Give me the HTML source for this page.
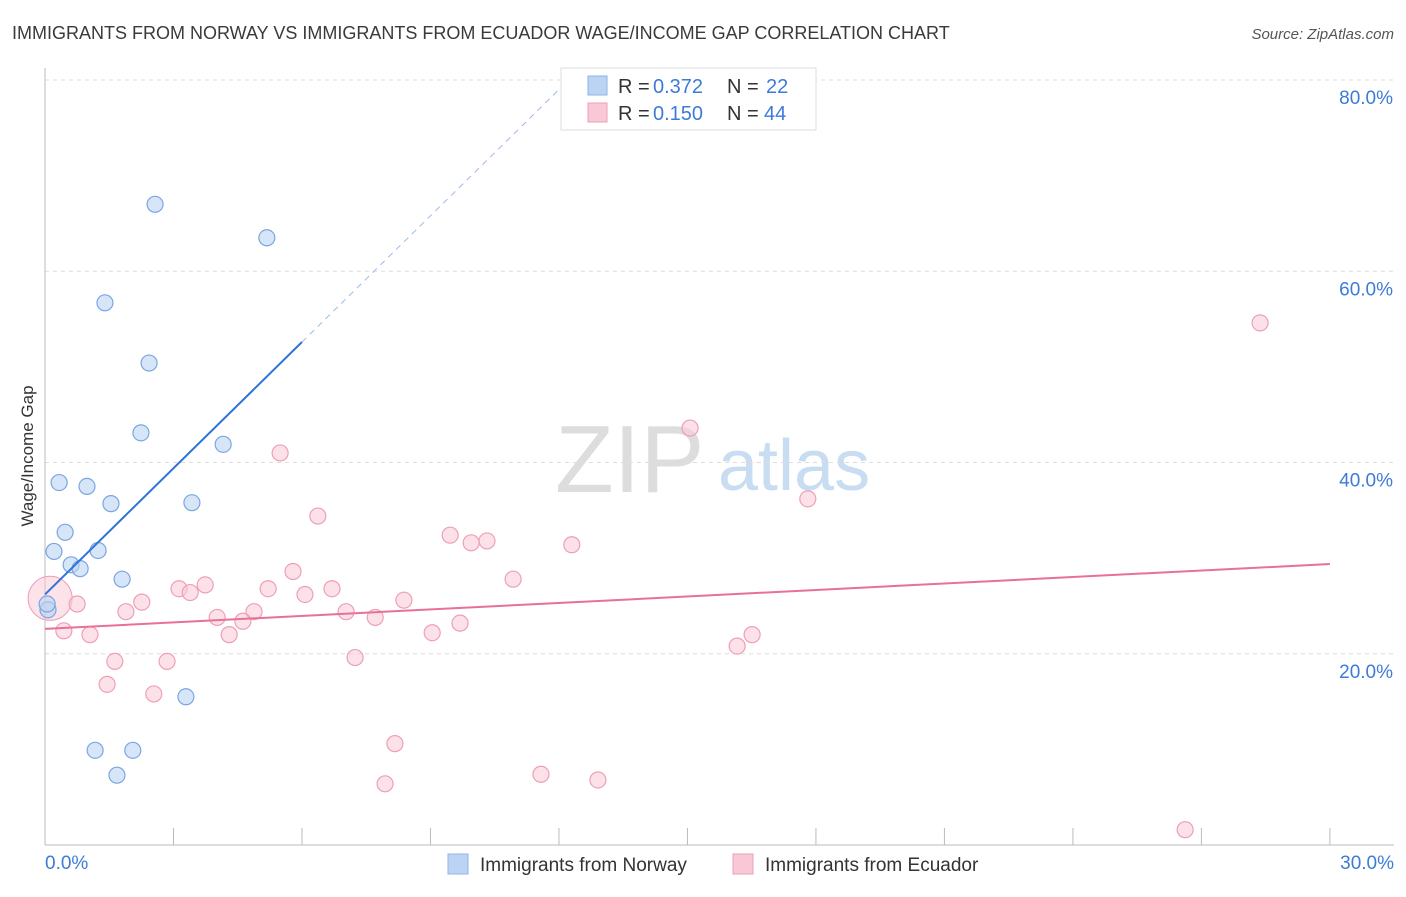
<!DOCTYPE html>
<html><head><meta charset="utf-8"><style>
body{margin:0;background:#fff;font-family:"Liberation Sans",sans-serif}
svg text{font-family:"Liberation Sans",sans-serif}
</style></head><body>
<svg id="c" width="1406" height="892">
<text x="12" y="39" font-size="18" fill="#3a3a3a">IMMIGRANTS FROM NORWAY VS IMMIGRANTS FROM ECUADOR WAGE/INCOME GAP CORRELATION CHART</text>
<text x="1394" y="39" font-size="15" fill="#555" font-style="italic" text-anchor="end">Source: ZipAtlas.com</text>
<text x="33" y="456" font-size="17" fill="#333" text-anchor="middle" transform="rotate(-90 33 456)">Wage/Income Gap</text>
<text x="555" y="492" font-size="96" fill="#ddd" font-family="Liberation Serif">ZIP</text>
<text x="718" y="490" font-size="72" fill="#c8dcf2">atlas</text>
<g id="grid"></g><g id="marks"></g>
<rect x="561" y="68" width="255" height="62" fill="#fff" stroke="#ddd"/>
<rect x="588" y="76" width="19" height="19" fill="#bcd4f3" stroke="#8fb3e6"/>
<rect x="588" y="103" width="19" height="19" fill="#f9c8d6" stroke="#ee9fb8"/>
<text y="93" font-size="20" fill="#333"><tspan x="618">R =</tspan><tspan x="653" fill="#3d7bd8">0.372</tspan><tspan x="727">N =</tspan><tspan x="766" fill="#3d7bd8">22</tspan></text>
<text y="120" font-size="20" fill="#333"><tspan x="618">R =</tspan><tspan x="653" fill="#3d7bd8">0.150</tspan><tspan x="727">N =</tspan><tspan x="764" fill="#3d7bd8">44</tspan></text>
<rect x="448" y="854" width="20" height="20" fill="#bcd4f3" stroke="#8fb3e6"/>
<text x="480" y="871" font-size="19" fill="#333">Immigrants from Norway</text>
<rect x="733" y="854" width="20" height="20" fill="#f9c8d6" stroke="#ee9fb8"/>
<text x="765" y="871" font-size="19" fill="#333">Immigrants from Ecuador</text>
</svg>
<script>
const yTicks=[20,40,60,80];
const xTickCount=[0,3,6,9,12,15,18,21,24,27,30];
const norwayX=[2.57,5.18,1.40,2.43,2.24,4.16,0.33,0.98,1.54,3.43,0.47,0.21,1.24,0.61,0.82,1.80,3.29,1.17,2.05,1.68,0.07,0.05];
const norwayY=[67.0,63.5,56.7,50.4,43.1,41.9,37.9,37.5,35.7,35.8,32.7,30.7,30.8,29.3,28.9,27.8,15.5,9.9,9.9,7.3,24.6,25.2];
const ecuX=[28.37,15.06,5.49,17.81,6.37,9.46,9.95,10.32,12.30,10.93,5.79,3.13,3.74,3.39,5.21,6.70,6.07,0.75,2.26,1.89,8.38,4.02,4.88,7.03,7.71,4.62,0.44,1.05,4.30,9.04,9.69,16.51,16.16,1.63,2.85,7.24,1.45,2.54,8.17,11.58,12.91,7.94,26.62,0.12];
const ecuY=[54.6,43.6,41.0,36.2,34.4,32.4,31.6,31.8,31.4,27.8,28.6,26.8,27.2,26.4,26.8,26.8,26.2,25.2,25.4,24.4,25.6,23.8,24.4,24.4,23.8,23.4,22.4,22.0,22.0,22.2,23.2,22.0,20.8,19.2,19.2,19.6,16.8,15.8,10.6,7.4,6.8,6.4,1.6,25.8];
const norwayFit=[26.2,4.4];
const ecuFit=[22.6,0.226];
const X=v=>45+v*42.83, Y=v=>845-v*9.5625;
const NS='http://www.w3.org/2000/svg';
const grid=document.getElementById('grid'),marks=document.getElementById('marks');
function mk(tag,at,parent){const e=document.createElementNS(NS,tag);for(const k in at)e.setAttribute(k,at[k]);parent.appendChild(e);return e;}
yTicks.forEach(t=>{
 const l=mk('line',{x1:45,x2:1394,y1:Y(t),y2:Y(t),stroke:'#ddd','stroke-dasharray':'4,4'},grid);
 
 
 const tx=mk('text',{x:1393,y:Y(t)+24,'font-size':19,fill:'#3d7bd8','text-anchor':'end'},grid);tx.textContent=t.toFixed(1)+'%';
 
 
});
const ax=mk('line',{x1:45,x2:45,y1:68,y2:845,stroke:'#bbb'},grid);


const bx=mk('line',{x1:45,x2:1394,y1:845,y2:845,stroke:'#bbb'},grid);


xTickCount.forEach(t=>{const l=mk('line',{x1:X(t),x2:X(t),y1:828,y2:845,stroke:'#bbb'},grid);
 
 });
[[0,'0.0%',45,'start'],[30,'30.0%',1394,'end']].forEach(a=>{const t=mk('text',{x:a[2],y:869,'font-size':19,fill:'#3d7bd8','text-anchor':a[3]},grid);t.textContent=a[1];
 
 });
const big=mk('circle',{cx:X(ecuX[43]),cy:Y(ecuY[43]),r:22,fill:'#f9c8d6','fill-opacity':0.5,stroke:'#ee9fb8'},marks);


ecuX.slice(0,-1).forEach((x,i)=>{const c=mk('circle',{cx:X(x),cy:Y(ecuY[i]),r:8,fill:'#f9c8d6','fill-opacity':0.55,stroke:'#ee9fb8','stroke-width':1.2},marks);
 
 });
norwayX.forEach((x,i)=>{const c=mk('circle',{cx:X(x),cy:Y(norwayY[i]),r:8,fill:'#bcd4f3','fill-opacity':0.6,stroke:'#7aa6e0','stroke-width':1.2},marks);
 
 });
const f=(p,x)=>p[0]+p[1]*x;
const tn=mk('line',{x1:X(0),y1:Y(f(norwayFit,0)),x2:X(6),y2:Y(f(norwayFit,6)),stroke:'#2f74d6','stroke-width':2},marks);


const td=mk('line',{x1:X(6),y1:Y(f(norwayFit,6)),x2:X(12),y2:Y(f(norwayFit,12)),stroke:'#9bbbe8','stroke-width':1,'stroke-dasharray':'6,5'},marks);


const te=mk('line',{x1:X(0),y1:Y(f(ecuFit,0)),x2:X(30),y2:Y(f(ecuFit,30)),stroke:'#e8709a','stroke-width':2},marks);


</script>
</body></html>
